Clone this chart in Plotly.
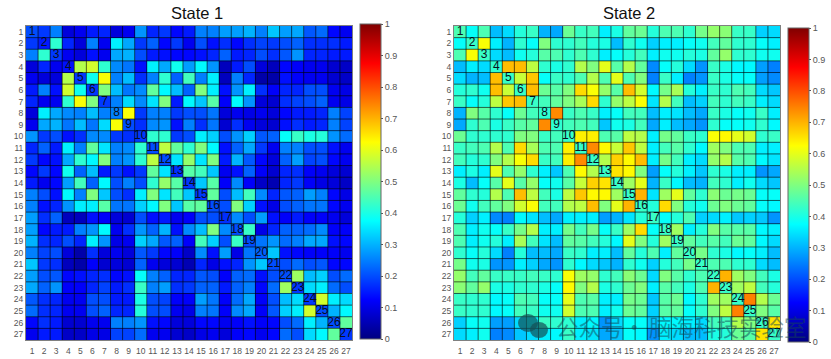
import numpy as np
import plotly.graph_objects as go

regions = list(range(1, 28))
colorbar_ticks = [0, 0.1, 0.2, 0.3, 0.4, 0.5, 0.6, 0.7, 0.8, 0.9, 1]
colorbar_labels = ["0", "0.1", "0.2", "0.3", "0.4", "0.5", "0.6", "0.7", "0.8", "0.9", "1"]

# upper triangles, row by row (starting on the diagonal)
state1_upper = [
 [.20,.18,.25,.09,.11,.15,.16,.09,.11,.27,.16,.18,.13,.15,.25,.25,.28,.28,.30,.25,.32,.28,.29,.21,.23,.13,.11],
 [.15,.42,.16,.09,.25,.11,.36,.29,.18,.22,.13,.18,.11,.20,.14,.17,.13,.17,.19,.18,.20,.22,.17,.17,.17,.15],
 [.18,.11,.09,.14,.11,.29,.30,.20,.15,.14,.13,.13,.14,.16,.22,.15,.16,.20,.17,.21,.27,.16,.16,.15,.15],
 [.14,.55,.58,.42,.26,.24,.14,.36,.29,.39,.28,.37,.27,.06,.15,.20,.09,.06,.13,.12,.11,.11,.08,.07],
 [.18,.39,.62,.25,.31,.17,.25,.42,.22,.44,.25,.36,.06,.25,.16,.04,.04,.14,.12,.11,.11,.08,.07],
 [.18,.50,.31,.24,.26,.47,.37,.31,.22,.50,.36,.14,.27,.36,.17,.12,.16,.16,.20,.20,.11,.10],
 [.18,.25,.34,.26,.35,.50,.15,.37,.32,.46,.12,.37,.27,.09,.08,.17,.19,.20,.22,.11,.10],
 [.25,.62,.18,.25,.25,.18,.20,.20,.24,.09,.11,.10,.11,.09,.13,.15,.15,.16,.25,.19],
 [.20,.17,.26,.27,.14,.25,.17,.24,.08,.17,.11,.09,.08,.14,.17,.15,.16,.25,.19],
 [.18,.42,.42,.18,.20,.36,.33,.20,.27,.33,.21,.22,.38,.43,.40,.41,.27,.23],
 [.20,.56,.47,.42,.50,.37,.14,.22,.29,.18,.11,.25,.25,.20,.20,.14,.11],
 [.20,.35,.52,.35,.50,.15,.30,.21,.13,.09,.22,.28,.19,.20,.13,.11],
 [.17,.46,.44,.32,.11,.14,.22,.12,.08,.16,.17,.12,.11,.09,.08],
 [.18,.32,.46,.12,.26,.12,.07,.05,.16,.18,.12,.10,.09,.07],
 [.18,.47,.20,.31,.44,.26,.16,.21,.22,.28,.25,.13,.10],
 [.20,.20,.50,.33,.14,.10,.20,.22,.24,.24,.13,.11],
 [.17,.26,.20,.28,.14,.12,.15,.12,.12,.11,.09],
 [.20,.43,.10,.16,.22,.22,.23,.26,.12,.12],
 [.20,.24,.27,.23,.25,.29,.29,.14,.13],
 [.22,.32,.14,.13,.12,.12,.12,.11],
 [.20,.20,.23,.20,.21,.13,.13],
 [.20,.53,.31,.33,.20,.23],
 [.18,.34,.36,.23,.20],
 [.18,.58,.36,.34],
 [.20,.30,.37],
 [.20,.47],
 [.18],
]

state2_upper = [
 [.45,.38,.45,.31,.34,.41,.43,.30,.29,.48,.43,.44,.36,.40,.47,.48,.41,.45,.45,.42,.49,.52,.51,.43,.43,.33,.34],
 [.43,.62,.36,.30,.42,.38,.50,.42,.42,.44,.41,.40,.31,.42,.39,.33,.36,.36,.38,.39,.44,.47,.42,.42,.38,.36],
 [.43,.34,.31,.39,.41,.46,.45,.42,.45,.42,.36,.38,.41,.44,.36,.39,.39,.41,.40,.47,.52,.42,.42,.39,.39],
 [.42,.69,.69,.56,.42,.40,.42,.55,.50,.60,.46,.55,.47,.26,.38,.41,.34,.27,.43,.40,.37,.37,.28,.25],
 [.43,.57,.68,.38,.43,.42,.45,.55,.45,.60,.45,.50,.25,.43,.36,.25,.27,.43,.40,.38,.38,.28,.26],
 [.43,.69,.48,.46,.50,.66,.62,.52,.46,.69,.58,.37,.49,.54,.41,.36,.43,.42,.45,.44,.34,.32],
 [.43,.44,.47,.50,.54,.66,.42,.52,.56,.62,.35,.55,.44,.31,.33,.44,.42,.44,.43,.36,.34],
 [.42,.74,.43,.45,.43,.36,.38,.44,.44,.31,.36,.35,.31,.29,.43,.40,.38,.39,.43,.36],
 [.42,.44,.45,.44,.32,.39,.40,.44,.29,.36,.31,.29,.27,.42,.38,.38,.39,.42,.37],
 [.43,.64,.64,.45,.46,.56,.55,.36,.49,.47,.43,.42,.62,.63,.60,.58,.42,.43],
 [.43,.74,.63,.57,.68,.56,.36,.44,.46,.42,.37,.53,.50,.45,.45,.36,.36],
 [.43,.55,.67,.63,.69,.36,.49,.44,.36,.34,.52,.55,.46,.45,.37,.35],
 [.43,.65,.63,.50,.28,.38,.41,.36,.32,.42,.40,.36,.36,.27,.29],
 [.43,.53,.60,.30,.43,.37,.31,.30,.44,.42,.36,.39,.34,.32],
 [.43,.70,.35,.53,.60,.47,.42,.51,.48,.49,.48,.38,.38],
 [.43,.41,.66,.50,.41,.39,.48,.50,.48,.47,.38,.37],
 [.43,.38,.41,.45,.33,.34,.36,.32,.33,.32,.27],
 [.43,.53,.36,.41,.50,.46,.46,.46,.37,.36],
 [.43,.47,.44,.46,.44,.48,.47,.37,.34],
 [.43,.49,.42,.40,.37,.38,.36,.31],
 [.43,.45,.45,.42,.42,.34,.31],
 [.43,.70,.53,.50,.44,.40],
 [.43,.53,.56,.44,.41],
 [.43,.75,.55,.48],
 [.43,.50,.46],
 [.43,.65],
 [.43],
]


def full_matrix(upper):
    n = len(upper)
    m = np.zeros((n, n))
    for i, row in enumerate(upper):
        for k, v in enumerate(row):
            m[i, i + k] = v
            m[i + k, i] = v
    return m


W, H = 831, 359
JET = [[0, "rgb(0,0,128)"], [0.125, "rgb(0,0,255)"], [0.375, "rgb(0,255,255)"],
       [0.625, "rgb(255,255,0)"], [0.875, "rgb(255,0,0)"], [1, "rgb(128,0,0)"]]
GREY = "#555555"
FONT = "Liberation Sans"

fig = go.Figure()
panels = [
    dict(m=state1_upper, xa="x", ya="y", cb=(360, 24, 339), title="State 1", tx=197),
    dict(m=state2_upper, xa="x2", ya="y2", cb=(788, 28, 342), title="State 2", tx=629),
]
for p in panels:
    fig.add_trace(go.Heatmap(
        z=full_matrix(p["m"]), x=regions, y=regions, xaxis=p["xa"], yaxis=p["ya"],
        zmin=0, zmax=1, colorscale=JET, hoverinfo="skip",
        colorbar=dict(
            x=p["cb"][0] / W, xanchor="left", xpad=0, thickness=21, thicknessmode="pixels",
            y=1 - p["cb"][1] / H, yanchor="top", ypad=0,
            len=(p["cb"][2] - p["cb"][1]) / H, lenmode="fraction",
            tickvals=colorbar_ticks, ticktext=colorbar_labels, ticks="outside", ticklen=2,
            tickcolor=GREY, tickfont=dict(size=9, color=GREY, family=FONT),
            outlinecolor="#666666", outlinewidth=1,
        ),
    ))
    fig.add_trace(go.Scatter(
        x=regions, y=regions, xaxis=p["xa"], yaxis=p["ya"], mode="text",
        text=[str(r) for r in regions], textposition="middle center",
        textfont=dict(size=12, color="#0a1020", family=FONT),
        showlegend=False, hoverinfo="skip",
    ))
    fig.add_annotation(text=p["title"], x=p["tx"] / W, y=1 - 13 / H, xref="paper", yref="paper",
                       showarrow=False, xanchor="center", yanchor="middle",
                       font=dict(size=16.5, color="#111111", family=FONT))
    # cell borders, on top of the cells, in the axes' own scale
    for edge in np.arange(1.5, 27.5):
        fig.add_shape(type="line", xref=p["xa"], yref=p["ya"], x0=edge, x1=edge, y0=0.5, y1=27.5,
                      line=dict(color="rgba(0,0,0,0.62)", width=1), layer="above")
        fig.add_shape(type="line", xref=p["xa"], yref=p["ya"], x0=0.5, x1=27.5, y0=edge, y1=edge,
                      line=dict(color="rgba(0,0,0,0.62)", width=1), layer="above")

axis_common = dict(
    tickmode="array", tickvals=regions, ticktext=[str(r) for r in regions], ticks="",
    tickfont=dict(size=8.5, color=GREY, family=FONT), showgrid=False, zeroline=False,
    showline=True, mirror=True, linecolor="#808080", linewidth=1,
)
top, bottom = 26, 340
ydom = [1 - bottom / H, 1 - top / H]
fig.update_layout(
    width=W, height=H, margin=dict(l=0, r=0, t=0, b=0), paper_bgcolor="white",
    plot_bgcolor="white", showlegend=False,
    xaxis=dict(axis_common, domain=[26 / W, 352 / W], range=[0.5, 27.5], anchor="y", ticklabelstandoff=3),
    yaxis=dict(axis_common, domain=ydom, range=[27.5, 0.5], anchor="x"),
    xaxis2=dict(axis_common, domain=[454 / W, 780 / W], range=[0.5, 27.5], anchor="y2", ticklabelstandoff=3),
    yaxis2=dict(axis_common, domain=ydom, range=[27.5, 0.5], anchor="x2"),
)

# watermark over the second panel
WM = dict(size=22.5, color="rgba(20,70,85,0.5)", family="Noto Sans CJK SC")
fig.add_annotation(text="公众号", x=554 / W, y=1 - 326 / H, xref="paper", yref="paper",
                   showarrow=False, xanchor="left", yanchor="middle", font=WM)
fig.add_annotation(text="·", x=634 / W, y=1 - 326 / H, xref="paper", yref="paper",
                   showarrow=False, xanchor="center", yanchor="middle", font=WM)
fig.add_annotation(text="脑海科技实验室", x=647 / W, y=1 - 326 / H, xref="paper", yref="paper",
                   showarrow=False, xanchor="left", yanchor="middle", font=WM)
for x0, y0, x1, y1 in [(518, 314, 538, 332), (530, 322, 548, 338)]:
    fig.add_shape(type="circle", xref="paper", yref="paper", x0=x0 / W, x1=x1 / W, y0=1 - y1 / H, y1=1 - y0 / H,
                  fillcolor="rgba(20,80,85,0.7)", line_width=0)

fig.write_html("out.html", config={"displayModeBar": False},
               post_script="document.body.style.margin='0';")
